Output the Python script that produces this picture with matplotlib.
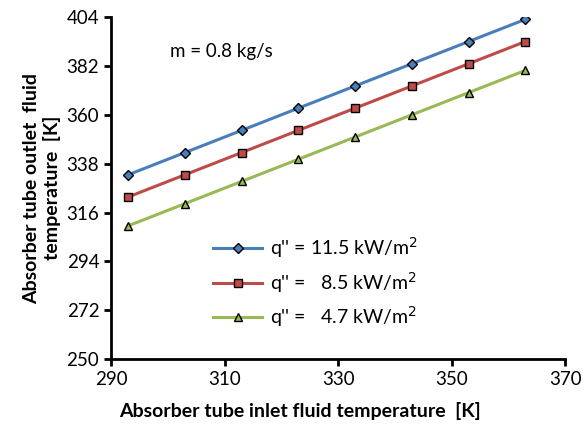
import matplotlib
matplotlib.use("Agg")
import matplotlib.pyplot as plt

plt.rcParams['font.family'] = ['Lato', 'DejaVu Sans']

inlet_temp = [293, 303, 313, 323, 333, 343, 353, 363]
outlet_q115 = [333, 343, 353, 363, 373, 383, 393, 403]
outlet_q85 = [323, 333, 343, 353, 363, 373, 383, 393]
outlet_q47 = [310, 320, 330, 340, 350, 360, 370, 380]

labels = ["q'' = 11.5 kW/m$^2$", "q'' =   8.5 kW/m$^2$", "q'' =   4.7 kW/m$^2$"]

fig = plt.figure(figsize=(5.88, 4.28), dpi=100)
ax = fig.add_axes([0.189, 0.161, 0.772, 0.799])

ax.plot(inlet_temp, outlet_q115, color='#4a7ebb', lw=2.2, marker='D', ms=5,
        mfc='#4a7ebb', mec='black', mew=1, label=labels[0])
ax.plot(inlet_temp, outlet_q85, color='#be4b48', lw=2.2, marker='s', ms=6,
        mfc='#be4b48', mec='black', mew=1, label=labels[1])
ax.plot(inlet_temp, outlet_q47, color='#98b954', lw=2.2, marker='^', ms=6,
        mfc='#98b954', mec='black', mew=1, label=labels[2])

ax.set_xlim(290, 370)
ax.set_ylim(250, 404)
ax.set_xticks([290, 310, 330, 350, 370])
ax.set_yticks([250, 272, 294, 316, 338, 360, 382, 404])

for s in ['top', 'right']:
    ax.spines[s].set_visible(False)
for s in ['left', 'bottom']:
    ax.spines[s].set_linewidth(2)
ax.tick_params(direction='out', width=2, length=5, labelsize=13.5)

ax.set_xlabel('Absorber tube inlet fluid temperature  [K]', fontsize=14, fontweight='bold')
ax.xaxis.set_label_coords(0.416, -0.125)
ax.set_ylabel('Absorber tube outlet  fluid\ntemperature  [K]', fontsize=14, fontweight='bold')

ax.text(0.13, 0.9, 'm = 0.8 kg/s', transform=ax.transAxes, fontsize=13.5, va='center')

ax.legend(loc='center left', bbox_to_anchor=(0.225, 0.225), frameon=False, fontsize=14,
          borderpad=0, borderaxespad=0, handlelength=2.5, labelspacing=0.5,
          handletextpad=0.4)

fig.savefig('out.png', dpi=100)
